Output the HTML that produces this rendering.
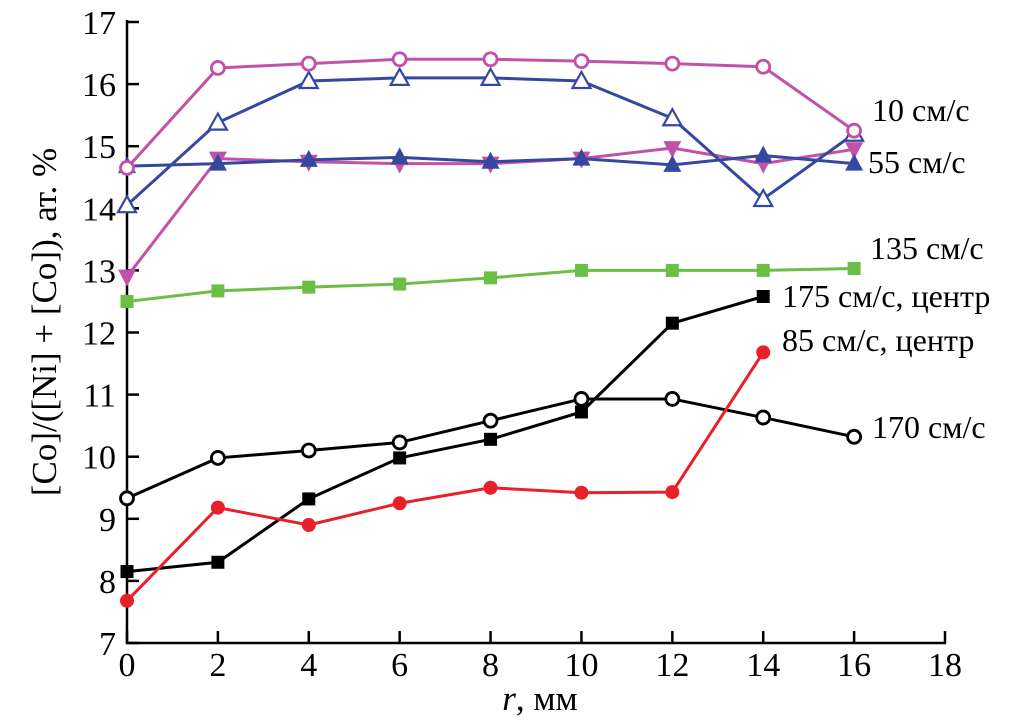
<!DOCTYPE html>
<html><head><meta charset="utf-8"><style>
body{margin:0;background:#fff}
svg{display:block;font-family:"Liberation Serif",serif}
</style></head><body>
<svg id="c" width="1010" height="722"></svg>
<script>
const xs=[0,2,4,6,8,10,12,14,16];
const s10=[14.65,16.26,16.33,16.4,16.4,16.37,16.33,16.28,15.25];
const sTri=[14.05,15.38,16.05,16.1,16.1,16.05,15.45,14.15,15.2];
const s55=[14.68,14.72,14.78,14.82,14.75,14.8,14.7,14.85,14.72];
const sDown=[12.9,14.8,14.75,14.72,14.72,14.8,14.97,14.72,14.95];
const s135=[12.5,12.67,12.73,12.78,12.88,13.0,13.0,13.0,13.03];
const s175=[8.15,8.3,9.32,9.98,10.28,10.72,12.15,12.58];
const s85=[7.68,9.18,8.9,9.25,9.5,9.42,9.43,11.68];
const s170=[9.33,9.98,10.1,10.23,10.58,10.93,10.93,10.63,10.32];
const xTicks=[0,2,4,6,8,10,12,14,16,18];
const yTicks=[7,8,9,10,11,12,13,14,15,16,17];
const NS="http://www.w3.org/2000/svg",svg=document.getElementById('c');
const X=v=>127+v*(945-127)/18, Y=v=>643-(v-7)*(643-22)/10;
function el(t,a,p){const e=document.createElementNS(NS,t);for(const k in a)e.setAttribute(k,a[k]);(p||svg).appendChild(e);return e;}
const ax=el('g',{});


el('line',{x1:127,y1:20,x2:127,y2:644,stroke:'#000','stroke-width':2.5},ax);
el('line',{x1:126,y1:643,x2:946,y2:643,stroke:'#000','stroke-width':2.5},ax);
xTicks.forEach(t=>{el('line',{x1:X(t),y1:643,x2:X(t),y2:631,stroke:'#000','stroke-width':2.5},ax);
 const tx=el('text',{x:X(t),y:676,'font-size':34,'text-anchor':'middle'},ax);tx.textContent=t;
 
 });
yTicks.forEach(t=>{el('line',{x1:127,y1:Y(t),x2:139,y2:Y(t),stroke:'#000','stroke-width':2.5},ax);
 const tx=el('text',{x:116,y:Y(t)+12,'font-size':34,'text-anchor':'end'},ax);tx.textContent=t;
 
 });
const yt=el('text',{x:0,y:0,'font-size':35,'text-anchor':'middle',transform:'translate(56,322) rotate(-90)'});
yt.textContent='[Co]/([Ni] + [Co]), ат. %';


const xt=el('text',{x:540,y:710,'font-size':35,'text-anchor':'middle'});
xt.innerHTML='<tspan font-style="italic">r</tspan>, мм';


function marker(g,type,cx,cy,col){
 const r=6.5;
 if(type==='oc')el('circle',{cx,cy,r:6.5,fill:'#fff',stroke:col,'stroke-width':2.8},g);
 if(type==='ot')el('polygon',{points:`${cx},${cy-9} ${cx-9},${cy+7} ${cx+9},${cy+7}`,fill:'#fff',stroke:col,'stroke-width':2.2},g);
 if(type==='ft')el('polygon',{points:`${cx},${cy-10} ${cx-9},${cy+7} ${cx+9},${cy+7}`,fill:col},g);
 if(type==='fd')el('polygon',{points:`${cx},${cy+10} ${cx-9},${cy-7} ${cx+9},${cy-7}`,fill:col},g);
 if(type==='sq')el('rect',{x:cx-r,y:cy-r,width:2*r,height:2*r,fill:col},g);
 if(type==='fc')el('circle',{cx,cy,r:7,fill:col},g);
}
function series(name,data,col,type){
 const g=el('g',{});
 
 
 el('polyline',{points:data.map((v,i)=>X(xs[i])+','+Y(v)).join(' '),fill:'none',stroke:col,'stroke-width':3},g);
 data.forEach((v,i)=>marker(g,type,X(xs[i]),Y(v),col));
}
series('series-down-triangles',sDown,'#c252a8','fd');
series('series-55',s55,'#3448a0','ft');
series('series-open-triangles',sTri,'#3448a0','ot');
series('series-10',s10,'#c252a8','oc');
series('series-135',s135,'#6cbf44','sq');
series('series-170',s170,'#000','oc');
series('series-175',s175,'#000','sq');
series('series-85',s85,'#e8202a','fc');
[['10 см/с',872,121],['55 см/с',868,173],['135 см/с',870,259],['175 см/с, центр',782,307],['85 см/с, центр',782,351],['170 см/с',872,438]].forEach(([t,x,y])=>{
 const tx=el('text',{x,y,'font-size':32});tx.textContent=t;
 
 });
</script>
</body></html>
